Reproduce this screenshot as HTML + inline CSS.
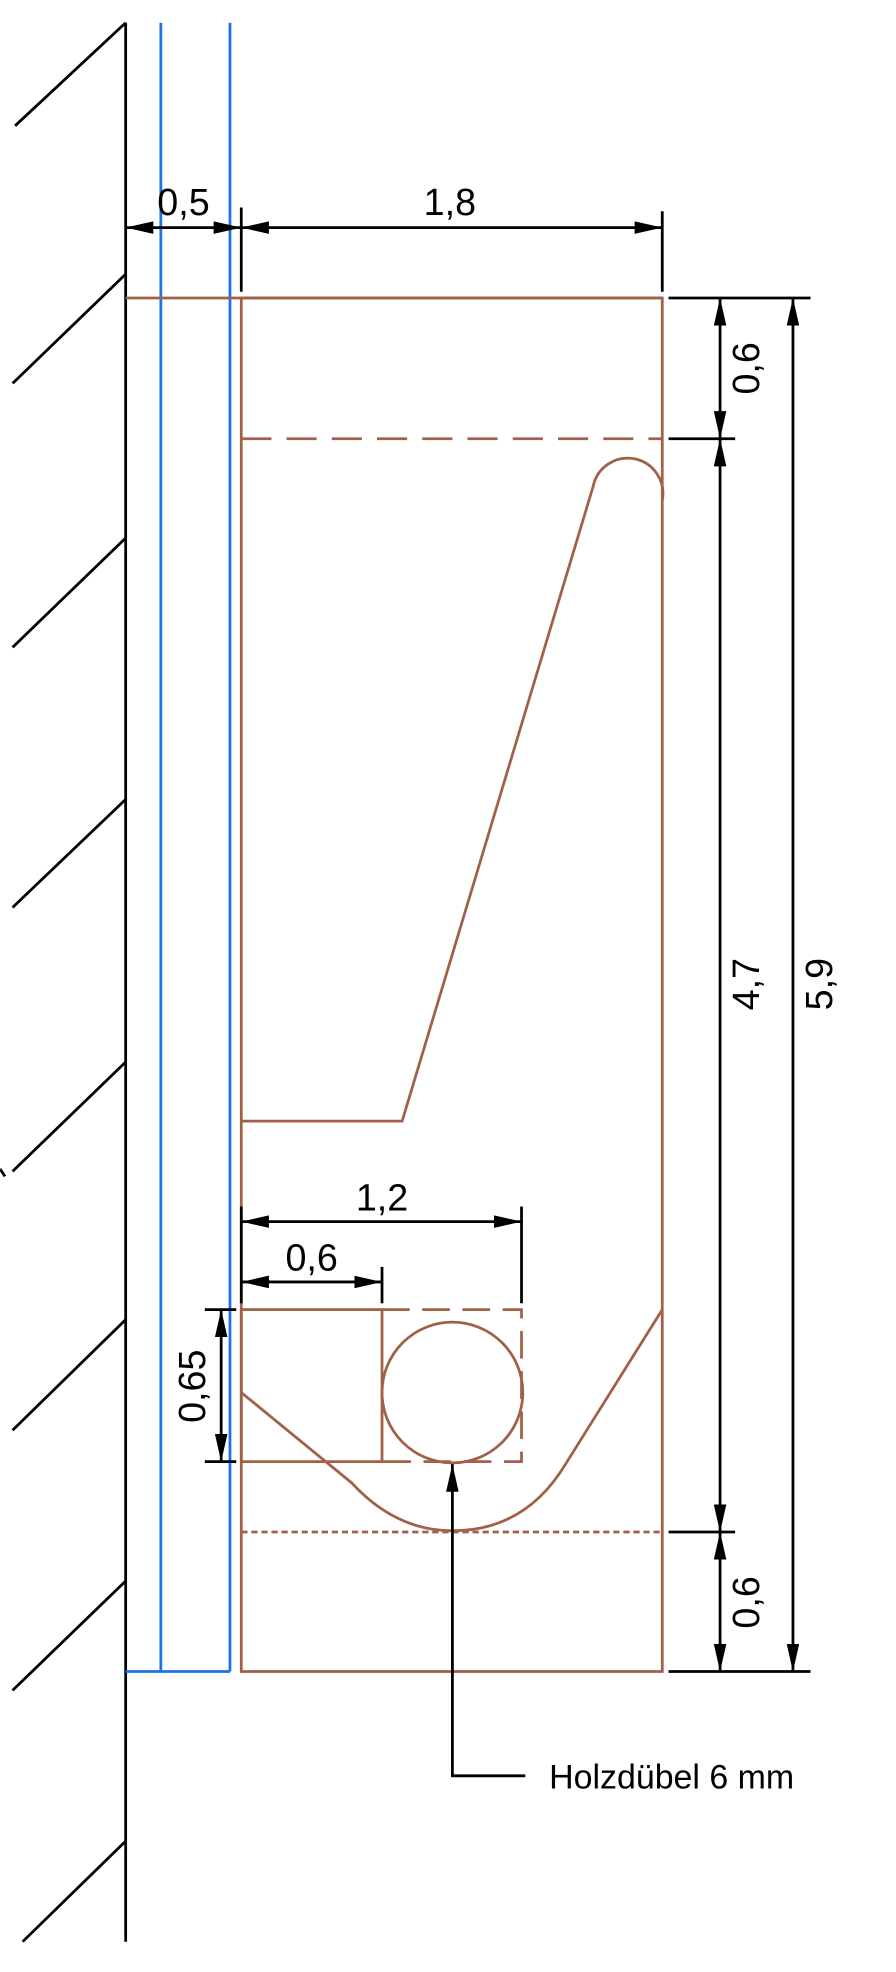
<!DOCTYPE html>
<html><head><meta charset="utf-8"><style>html,body{margin:0;padding:0;background:#fff}svg{display:block}</style></head>
<body>
<svg width="896" height="1972" viewBox="0 0 713 1569" xmlns="http://www.w3.org/2000/svg" font-family="Liberation Sans, sans-serif">
<defs>
<marker id="a" viewBox="0 0 22 10" refX="22" refY="5" markerWidth="22" markerHeight="10" markerUnits="userSpaceOnUse" orient="auto-start-reverse"><path d="M0,0 L22,5 L0,10 Z" fill="#000"/></marker>
</defs>
<g stroke="#000" stroke-width="2.2" fill="none">
<line x1="100" y1="18" x2="100" y2="1545"/>
<line x1="100" y1="18" x2="12" y2="100"/>
<line x1="100" y1="218" x2="10" y2="305"/>
<line x1="100" y1="428" x2="10" y2="515"/>
<line x1="100" y1="636" x2="10" y2="722"/>
<line x1="100" y1="845" x2="10" y2="932"/>
<line x1="100" y1="1050" x2="10" y2="1138"/>
<line x1="100" y1="1258" x2="10" y2="1345"/>
<line x1="100" y1="1465" x2="18" y2="1545"/>
</g>
<g stroke="#1a73e8" stroke-width="2.2" fill="none">
<line x1="128" y1="18" x2="128" y2="1330"/>
<line x1="183" y1="18" x2="183" y2="1330"/>
<line x1="100" y1="1330" x2="183" y2="1330"/>
</g>
<g stroke="#a0604a" stroke-width="2.2" fill="none">
<line x1="100" y1="237" x2="527" y2="237"/>
<rect x="192" y="237" width="335" height="1093"/>
<line x1="192" y1="349" x2="527" y2="349" stroke-dasharray="24,12"/>
<path d="M192,892 L320,892 L472,387 A28,28 0 0 1 527,398"/>
<path d="M192,1108 L280,1180 Q315,1218 360,1218 Q418,1218 450,1165 L527,1042"/>
<line x1="192" y1="1219" x2="527" y2="1219" stroke-dasharray="5,3"/>
<rect x="192" y="1042" width="112" height="121"/>
<path d="M304,1042 H415 V1163 H304" stroke-dasharray="22,10"/>
<circle cx="360" cy="1108" r="56"/>
</g>
<g stroke="#000" stroke-width="2.2" fill="none">
<line x1="192" y1="165" x2="192" y2="232"/>
<line x1="527" y1="168" x2="527" y2="232"/>
<line x1="100" y1="181" x2="192" y2="181" marker-start="url(#a)" marker-end="url(#a)"/>
<line x1="192" y1="181" x2="527" y2="181" marker-start="url(#a)" marker-end="url(#a)"/>
<line x1="532" y1="237" x2="645" y2="237"/>
<line x1="532" y1="349" x2="585" y2="349"/>
<line x1="532" y1="1219" x2="585" y2="1219"/>
<line x1="532" y1="1330" x2="645" y2="1330"/>
<line x1="573" y1="237" x2="573" y2="349" marker-start="url(#a)" marker-end="url(#a)"/>
<line x1="573" y1="349" x2="573" y2="1219" marker-start="url(#a)" marker-end="url(#a)"/>
<line x1="573" y1="1219" x2="573" y2="1330" marker-start="url(#a)" marker-end="url(#a)"/>
<line x1="631" y1="237" x2="631" y2="1330" marker-start="url(#a)" marker-end="url(#a)"/>
<line x1="192" y1="960" x2="192" y2="1037"/>
<line x1="415" y1="960" x2="415" y2="1037"/>
<line x1="304" y1="1008" x2="304" y2="1037"/>
<line x1="192" y1="972" x2="415" y2="972" marker-start="url(#a)" marker-end="url(#a)"/>
<line x1="192" y1="1020" x2="304" y2="1020" marker-start="url(#a)" marker-end="url(#a)"/>
<line x1="163" y1="1042" x2="188" y2="1042"/>
<line x1="163" y1="1163" x2="188" y2="1163"/>
<line x1="176" y1="1042" x2="176" y2="1163" marker-start="url(#a)" marker-end="url(#a)"/>
<polyline points="418,1413 360,1413 360,1165" marker-end="url(#a)"/>
<line x1="0" y1="930" x2="4" y2="936"/>
</g>
<g font-size="30" fill="#000" text-anchor="middle">
<text x="146" y="171">0,5</text>
<text x="358" y="171">1,8</text>
<text x="304" y="963">1,2</text>
<text x="248" y="1011">0,6</text>
<text transform="translate(604,293) rotate(-90)">0,6</text>
<text transform="translate(604,783) rotate(-90)">4,7</text>
<text transform="translate(604,1275) rotate(-90)">0,6</text>
<text transform="translate(662,783) rotate(-90)">5,9</text>
<text transform="translate(163,1103) rotate(-90)">0,65</text>
<text x="437" y="1423" text-anchor="start" font-size="27">Holzdübel 6 mm</text>
</g>
</svg>
</body></html>
